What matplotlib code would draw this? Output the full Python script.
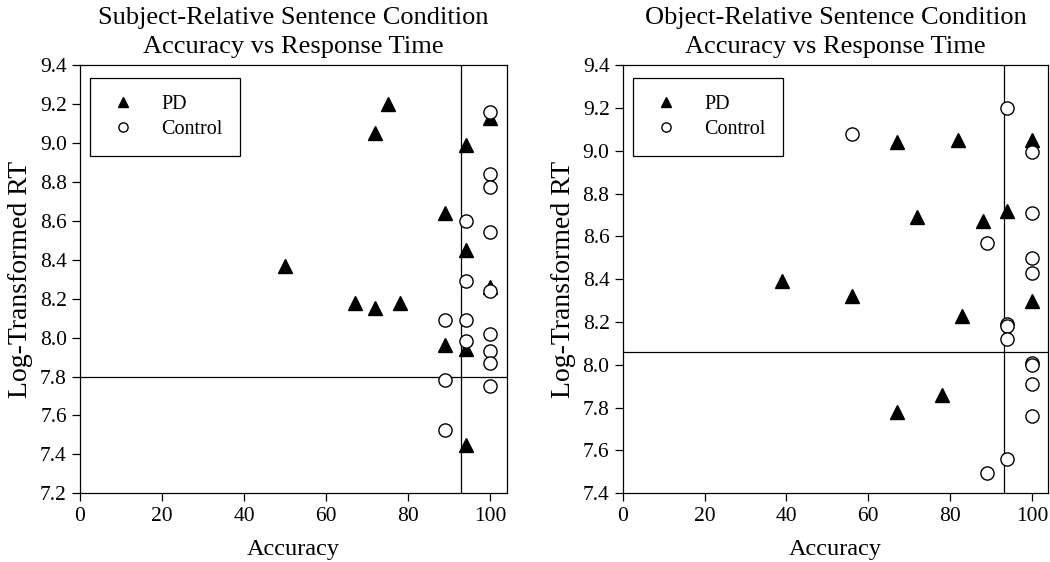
import matplotlib
matplotlib.use("Agg")
import matplotlib.pyplot as plt

plt.rcParams['font.family'] = ['Liberation Serif', 'DejaVu Serif']

# Subject-relative condition
subj_pd_acc = [50, 67, 72, 78, 72, 75, 89, 89, 94, 94, 94, 94, 100, 100]
subj_pd_rt = [8.37, 8.18, 8.15, 8.18, 9.05, 9.20, 8.64, 7.96, 8.99, 8.45, 7.94, 7.45, 9.13, 8.26]
subj_ctrl_acc = [100, 100, 100, 94, 100, 94, 100, 89, 94, 100, 94, 100, 100, 89, 100, 89]
subj_ctrl_rt = [9.16, 8.84, 8.775, 8.60, 8.54, 8.29, 8.24, 8.09, 8.09, 8.02, 7.98, 7.93, 7.87, 7.78, 7.75, 7.525]
subj_cut_acc = 92.8
subj_cut_rt = 7.80

# Object-relative condition
obj_pd_acc = [39, 56, 67, 67, 72, 78, 82, 83, 88, 94, 100, 100]
obj_pd_rt = [8.39, 8.32, 9.04, 7.78, 8.69, 7.86, 9.05, 8.23, 8.67, 8.72, 9.05, 8.30]
obj_ctrl_acc = [56, 94, 100, 100, 89, 100, 100, 94, 94, 94, 100, 100, 100, 100, 94, 89]
obj_ctrl_rt = [9.08, 9.20, 8.995, 8.71, 8.57, 8.50, 8.43, 8.19, 8.18, 8.12, 8.01, 7.998, 7.91, 7.76, 7.56, 7.495]
obj_cut_acc = 93.2
obj_cut_rt = 8.06

subj_yticks = [7.2, 7.4, 7.6, 7.8, 8.0, 8.2, 8.4, 8.6, 8.8, 9.0, 9.2, 9.4]
obj_yticks = [7.4, 7.6, 7.8, 8.0, 8.2, 8.4, 8.6, 8.8, 9.0, 9.2, 9.4]
xticks = [0, 20, 40, 60, 80, 100]


def draw_panel(ax, pd_x, pd_y, c_x, c_y, cut_x, cut_y, yticks, title):
    ax.axvline(cut_x, color='black', lw=0.9, zorder=1)
    ax.axhline(cut_y, color='black', lw=0.9, zorder=1)
    ax.plot(pd_x, pd_y, linestyle='none', marker='^', markersize=10,
            color='black', label='PD', zorder=2)
    ax.plot(c_x, c_y, linestyle='none', marker='o', markersize=9.5,
            markerfacecolor='white', markeredgecolor='black',
            markeredgewidth=1.0, label='Control', zorder=3)
    ax.set_xlim(0, 104)
    ax.set_ylim(yticks[0], yticks[-1])
    ax.set_xticks(xticks)
    ax.set_yticks(yticks)
    ax.set_yticklabels(['%.1f' % t for t in yticks])
    ax.tick_params(direction='out', length=6, width=0.9, labelsize=15.5,
                   right=False, top=False)
    for s in ax.spines.values():
        s.set_linewidth(0.9)
    ax.set_xlabel('Accuracy', fontsize=17.5, labelpad=10)
    ax.set_ylabel('Log-Transformed RT', fontsize=20, labelpad=5)
    ax.set_title(title, fontsize=19, pad=9, linespacing=1.4)
    leg = ax.legend(loc='upper left', bbox_to_anchor=(0.023, 0.97),
                    borderaxespad=0, fontsize=14.5, markerscale=0.7,
                    fancybox=False, edgecolor='black', framealpha=1,
                    borderpad=0.85, handletextpad=1.1, labelspacing=0.3,
                    handlelength=1.6)
    leg.get_frame().set_linewidth(0.9)


fig = plt.figure(figsize=(10.5, 5.62), dpi=100)
ax1 = fig.add_axes([0.0762, 0.1222, 0.4064, 0.7621])
ax2 = fig.add_axes([0.5931, 0.1222, 0.4053, 0.7621])

draw_panel(ax1, subj_pd_acc, subj_pd_rt, subj_ctrl_acc, subj_ctrl_rt,
           subj_cut_acc, subj_cut_rt, subj_yticks,
           'Subject-Relative Sentence Condition\nAccuracy vs Response Time')

draw_panel(ax2, obj_pd_acc, obj_pd_rt, obj_ctrl_acc, obj_ctrl_rt,
           obj_cut_acc, obj_cut_rt, obj_yticks,
           'Object-Relative Sentence Condition\nAccuracy vs Response Time')

fig.savefig('out.png', dpi=100)
